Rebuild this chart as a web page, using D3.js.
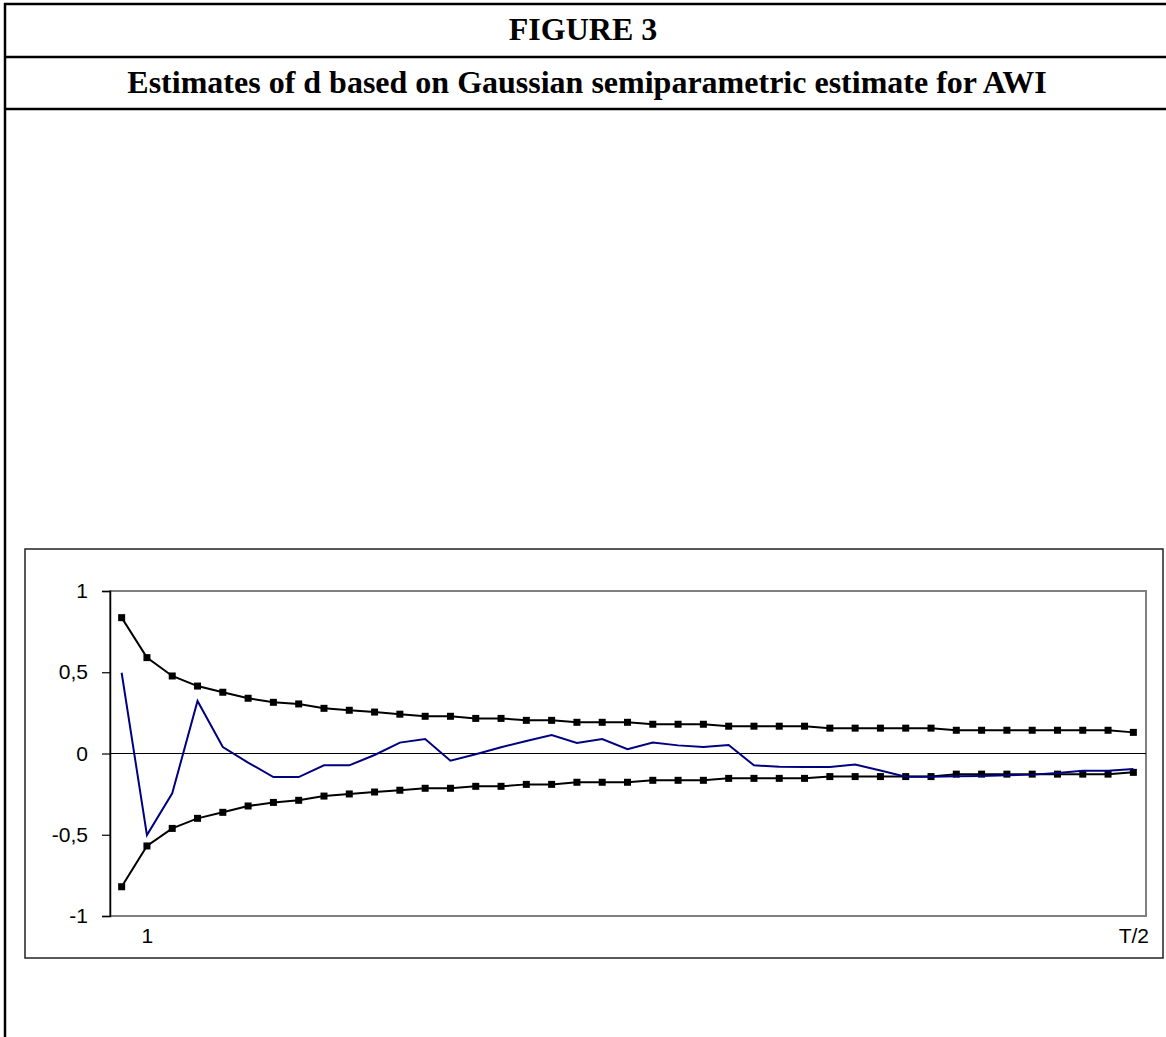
<!DOCTYPE html>
<html>
<head>
<meta charset="utf-8">
<script src="https://cdn.jsdelivr.net/npm/d3@7"></script>
<style>
  body { margin: 0; background: #fff; }
  svg { display: block; }
</style>
</head>
<body>
<div id="chart"></div>
<script>
// values (41 bandwidths, from m = 1 to T/2)
const upperBand = [0.836, 0.590, 0.477, 0.415, 0.377, 0.340, 0.315, 0.305, 0.278, 0.266,
  0.255, 0.242, 0.229, 0.229, 0.216, 0.216, 0.204, 0.204, 0.192, 0.192,
  0.192, 0.180, 0.180, 0.180, 0.168, 0.168, 0.168, 0.168, 0.156, 0.156,
  0.156, 0.156, 0.156, 0.143, 0.143, 0.143, 0.143, 0.143, 0.143, 0.143, 0.130]
const lowerBand = [-0.820, -0.569, -0.461, -0.399, -0.362, -0.323, -0.301, -0.288, -0.262, -0.249,
  -0.237, -0.226, -0.214, -0.214, -0.202, -0.202, -0.190, -0.190, -0.177, -0.177,
  -0.177, -0.165, -0.165, -0.165, -0.153, -0.153, -0.153, -0.153, -0.142, -0.142,
  -0.142, -0.142, -0.142, -0.127, -0.127, -0.127, -0.127, -0.127, -0.127, -0.127, -0.116]
const estimate = [0.497, -0.502, -0.245, 0.323, 0.040, -0.056, -0.145, -0.145, -0.073, -0.073,
  -0.009, 0.067, 0.089, -0.044, -0.005, 0.038, 0.077, 0.114, 0.065, 0.089,
  0.026, 0.067, 0.050, 0.040, 0.052, -0.073, -0.082, -0.083, -0.083, -0.068,
  -0.105, -0.143, -0.143, -0.140, -0.138, -0.134, -0.130, -0.120, -0.106, -0.106, -0.095]
const xLabels = ['', '1', '', '', '', '', '', '', '', '', '', '', '', '', '', '', '', '', '', '',
  '', '', '', '', '', '', '', '', '', '', '', '', '', '', '', '', '', '', '', '', 'T/2']
const yTicks = [-1, -0.5, 0, 0.5, 1]

const title = 'FIGURE 3'
const subtitle = 'Estimates of d based on Gaussian semiparametric estimate for AWI'

const width = 1166
const height = 1037
const plot = { left: 110, right: 1146, top: 591, bottom: 916 }
const labelFont = '21px "Liberation Sans", Arial, sans-serif'
const headFont = 'bold 32px "Liberation Serif", "Times New Roman", serif'

const svg = d3.select('#chart')
  .append('svg')
  .attr('width', width)
  .attr('height', height)

// Page frame with the two header rows
const frame = svg.append('g')
  .attr('stroke', '#000')
  .attr('stroke-width', 2.5)
frame.append('line').attr('x1', 5).attr('x2', 5).attr('y1', 3).attr('y2', height)
;[4, 57, 109].forEach(y => {
  frame.append('line').attr('x1', 4).attr('x2', width).attr('y1', y).attr('y2', y)
})

svg.append('text')
  .attr('x', 583)
  .attr('y', 40)
  .attr('text-anchor', 'middle')
  .style('font', headFont)
  .text(title)

svg.append('text')
  .attr('x', 587)
  .attr('y', 93)
  .attr('text-anchor', 'middle')
  .style('font', headFont)
  .text(subtitle)

// Chart box
svg.append('rect')
  .attr('x', 25)
  .attr('y', 549)
  .attr('width', 1138)
  .attr('height', 409)
  .attr('fill', 'none')
  .attr('stroke', '#222')
  .attr('stroke-width', 1.5)

// Scales
const xScale = d3.scalePoint()
  .domain(d3.range(xLabels.length))
  .range([plot.left - 1, plot.right])
  .padding(0.5)
const yScale = d3.scaleLinear()
  .domain([-1, 1])
  .range([plot.bottom, plot.top])

// decimal comma, plain hyphen for negatives
const locale = d3.formatLocale({ decimal: ',', thousands: '.', grouping: [3], currency: ['', ''], minus: '-' })
const fmt = locale.format('~g')

// Plot area outline (grey)
svg.append('rect')
  .attr('x', plot.left)
  .attr('y', plot.top)
  .attr('width', plot.right - plot.left)
  .attr('height', plot.bottom - plot.top)
  .attr('fill', 'none')
  .attr('stroke', '#808080')
  .attr('stroke-width', 2)

// Y axis
const yAxis = d3.axisLeft(yScale)
  .tickValues(yTicks)
  .tickSize(8)
  .tickPadding(14)
  .tickFormat(fmt)
svg.append('g')
  .attr('transform', `translate(${plot.left}, 0)`)
  .call(yAxis)
  .call(g => g.select('.domain').attr('stroke', '#000').attr('stroke-width', 1.5))
  .call(g => g.selectAll('.tick line').attr('stroke', '#000').attr('stroke-width', 1.2))
  .call(g => g.selectAll('text')
    .style('font', labelFont)
    .attr('fill', '#000'))

// Zero line
svg.append('line')
  .attr('x1', plot.left)
  .attr('x2', plot.right)
  .attr('y1', yScale(0))
  .attr('y2', yScale(0))
  .attr('stroke', '#000')
  .attr('stroke-width', 1)

// X axis labels (low position)
const xAxis = d3.axisBottom(xScale)
  .tickSize(0)
  .tickPadding(12)
  .tickFormat(i => xLabels[i])
svg.append('g')
  .attr('transform', `translate(0, ${plot.bottom})`)
  .call(xAxis)
  .call(g => g.select('.domain').remove())
  .call(g => g.selectAll('text')
    .style('font', labelFont)
    .attr('fill', '#000'))

const line = d3.line()
  .x((d, i) => xScale(i))
  .y(d => yScale(d))

// Confidence bands with square markers
;[upperBand, lowerBand].forEach(band => {
  svg.append('path')
    .datum(band)
    .attr('d', line)
    .attr('fill', 'none')
    .attr('stroke', '#000')
    .attr('stroke-width', 2)
  svg.append('g')
    .selectAll('rect')
    .data(band)
    .enter()
    .append('rect')
    .attr('x', (d, i) => xScale(i) - 3.5)
    .attr('y', d => yScale(d) - 3.5)
    .attr('width', 7)
    .attr('height', 7)
    .attr('fill', '#000')
})

// Estimate of d
svg.append('path')
  .datum(estimate)
  .attr('d', line)
  .attr('fill', 'none')
  .attr('stroke', '#000080')
  .attr('stroke-width', 2)
</script>
</body>
</html>
